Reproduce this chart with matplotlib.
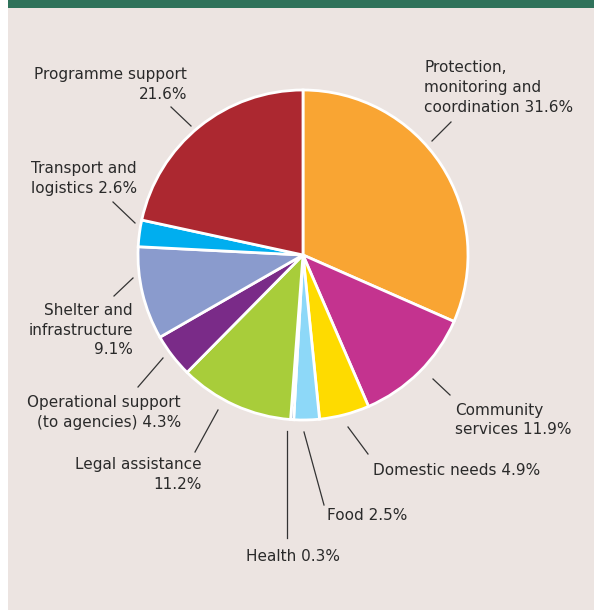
import numpy as np
import matplotlib
matplotlib.use("Agg")
import matplotlib.pyplot as plt
from matplotlib.patches import Rectangle

# ---- data ----
categories = ["Protection, monitoring and coordination", "Community services",
              "Domestic needs", "Food", "Health", "Legal assistance",
              "Operational support (to agencies)", "Shelter and infrastructure",
              "Transport and logistics", "Programme support"]
shares = [31.6, 11.9, 4.9, 2.5, 0.3, 11.2, 4.3, 9.1, 2.6, 21.6]
colors = ["#F9A533", "#C4338F", "#FEDB00", "#8DD8F8", "#1F4E9A",
          "#A8CD3A", "#7A2B88", "#8A9BCD", "#00AEEF", "#AC2830"]
label_lines = [
    ["Protection,", "monitoring and", "coordination 31.6%"],
    ["Community", "services 11.9%"],
    ["Domestic needs 4.9%"],
    ["Food 2.5%"],
    ["Health 0.3%"],
    ["Legal assistance", "11.2%"],
    ["Operational support", "(to agencies) 4.3%"],
    ["Shelter and", "infrastructure", "9.1%"],
    ["Transport and", "logistics 2.6%"],
    ["Programme support", "21.6%"],
]

# ---- layout (pixels) ----
W, H = 594, 610
CX, CY, R = 303, 255, 165
# (anchor x, first baseline y, ha, line spacing, leader p1, leader p2)
layout = [
    (424, 72, "left", 20, (432, 141), (451, 122)),
    (455, 415, "left", 19, (433, 379), (450, 395)),
    (373, 475, "left", 20, (348, 427), (368, 454)),
    (327, 520, "left", 20, (304, 432), (324, 505)),
    (246, 561, "left", 20, (287, 431), (287, 538)),
    (202, 469, "right", 20, (218, 410), (195, 452)),
    (181, 407, "right", 20, (163, 358), (138, 387)),
    (133, 315, "right", 19.5, (133, 278), (114, 296)),
    (137, 173, "right", 20, (135, 223), (113, 202)),
    (187, 79, "right", 20, (191, 126), (171, 107)),
]

def px(x, y):
    return (x - CX) / R, (CY - y) / R

fig = plt.figure(figsize=(W / 100, H / 100), dpi=100)
fig.patch.set_facecolor("white")

ax = fig.add_axes([0, 0, 1, 1])
ax.add_patch(Rectangle((8 / W, 0), 1, 1, transform=ax.transAxes,
                       facecolor="#ECE4E1", edgecolor="none", zorder=-10))
ax.add_patch(Rectangle((8 / W, 1 - 8 / H), 1, 8 / H, transform=ax.transAxes,
                       facecolor="#2F725A", edgecolor="none", zorder=-9))

wedges, _ = ax.pie(shares, colors=colors, startangle=90, counterclock=False,
                   radius=1, center=(0, 0), frame=True,
                   wedgeprops=dict(edgecolor="white", linewidth=2.0))
ax.set_xlim(-CX / R, (W - CX) / R)
ax.set_ylim(-(H - CY) / R, CY / R)
ax.axis("off")

tc = "#2A2A2A"
for lines, (x, y, ha, sp, p1, p2) in zip(label_lines, layout):
    for i, ln in enumerate(lines):
        tx, ty = px(x, y + i * sp)
        ax.text(tx, ty, ln, ha=ha, va="baseline", fontsize=11,
                color=tc, family="DejaVu Sans")
    a, b = px(*p1)
    c, d = px(*p2)
    ax.plot([a, c], [b, d], color="#333333", lw=0.9)

fig.savefig("out.png", dpi=100)
